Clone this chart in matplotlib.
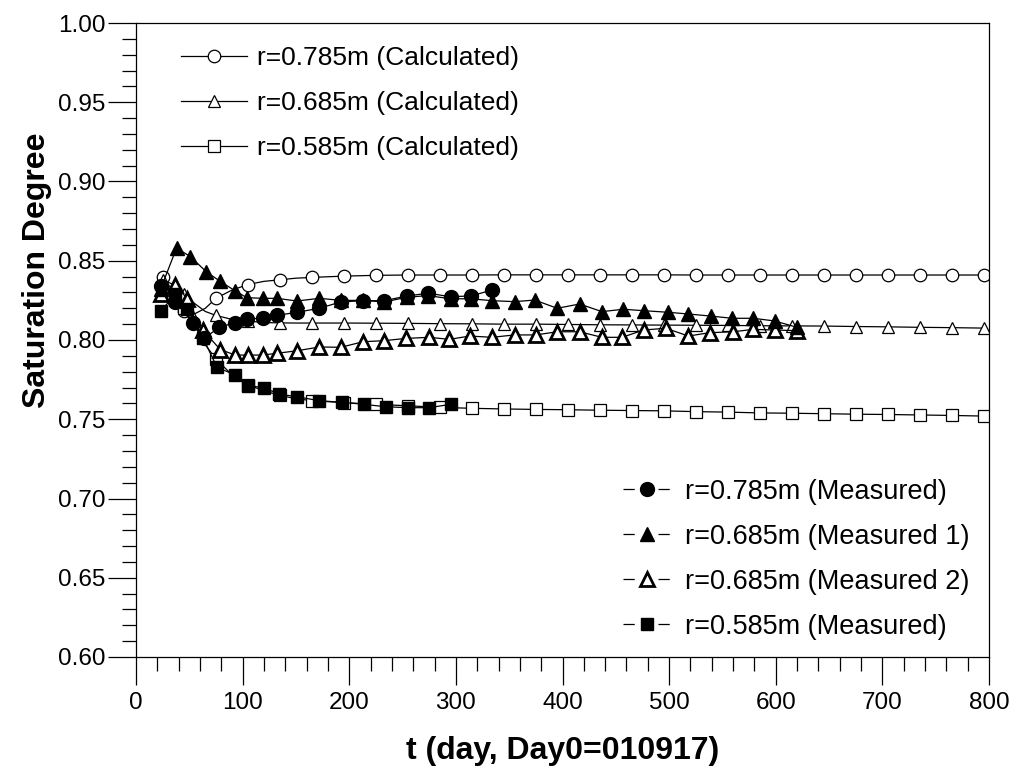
import numpy as np
import matplotlib
matplotlib.use('Agg')
import matplotlib.pyplot as plt
from matplotlib.lines import Line2D
from matplotlib.ticker import MultipleLocator

plt.rcParams['font.family'] = ['Liberation Sans', 'DejaVu Sans']

# calculated curves (line points), markers only at calc_mark_t
calc_t = [25, 35, 45, 55, 65, 75, 90, 105, 120, 135, 150, 165, 195, 225, 255, 285, 315, 345,
          375, 405, 435, 465, 495, 525, 555, 585, 615, 645, 675, 705, 735, 765, 795]
calc_mark_t = [25, 45, 75, 105, 135, 165, 195, 225, 255, 285, 315, 345, 375, 405, 435, 465,
               495, 525, 555, 585, 615, 645, 675, 705, 735, 765, 795]
calc_785 = [0.840, 0.826, 0.818, 0.8165, 0.820, 0.8263, 0.8315, 0.835, 0.837, 0.838, 0.839,
            0.8395, 0.8403, 0.8408, 0.841, 0.841, 0.841, 0.8411, 0.8411, 0.8411, 0.8411, 0.8411,
            0.8411, 0.841, 0.841, 0.841, 0.841, 0.841, 0.841, 0.841, 0.841, 0.841, 0.841]
calc_685 = [0.838, 0.835, 0.829, 0.823, 0.818, 0.8155, 0.813, 0.812, 0.811, 0.8108, 0.8107,
            0.8107, 0.8107, 0.8106, 0.8105, 0.8103, 0.8102, 0.810, 0.810, 0.8098, 0.8096, 0.8095,
            0.8094, 0.8093, 0.8092, 0.809, 0.8089, 0.8088, 0.8085, 0.8083, 0.808, 0.8078, 0.8075]
calc_585 = [0.829, 0.826, 0.820, 0.809, 0.797, 0.788, 0.778, 0.7716, 0.768, 0.765, 0.763,
            0.7617, 0.7605, 0.7594, 0.7585, 0.7575, 0.7569, 0.7565, 0.7562, 0.756, 0.7557, 0.7555,
            0.7553, 0.7548, 0.7545, 0.754, 0.7538, 0.7535, 0.7532, 0.753, 0.7527, 0.7524, 0.752]

# measured
m785_t = [23, 37, 53, 64, 78, 93, 104, 119, 132, 151, 172, 192, 213, 233, 254, 274, 295, 314, 334]
m785 = [0.834, 0.824, 0.811, 0.801, 0.808, 0.811, 0.813, 0.814, 0.8155, 0.8175, 0.820, 0.824,
        0.8248, 0.8248, 0.8278, 0.8295, 0.8273, 0.8278, 0.8315]

m685a_t = [23, 38, 51, 66, 79, 93, 104, 119, 132, 151, 172, 192, 213, 233, 254, 274, 295, 314,
           334, 355, 374, 395, 416, 437, 457, 476, 499, 518, 539, 559, 579, 599, 620]
m685a = [0.832, 0.858, 0.8526, 0.843, 0.837, 0.831, 0.8267, 0.8263, 0.8263, 0.8246, 0.8263,
         0.825, 0.825, 0.824, 0.827, 0.828, 0.826, 0.826, 0.8248, 0.8242, 0.8252, 0.820, 0.8227,
         0.8179, 0.8194, 0.8185, 0.8175, 0.8164, 0.8151, 0.8137, 0.8137, 0.812, 0.808]

m685b_t = [23, 37, 48, 63, 79, 93, 105, 119, 132, 151, 172, 192, 213, 233, 253, 275, 294, 313,
           334, 355, 375, 395, 416, 437, 456, 476, 497, 518, 538, 560, 579, 599, 620]
m685b = [0.829, 0.835, 0.826, 0.806, 0.794, 0.7905, 0.7905, 0.7905, 0.7916, 0.7932, 0.7956,
         0.7954, 0.7989, 0.7996, 0.801, 0.8017, 0.8004, 0.8025, 0.8017, 0.8032, 0.8032, 0.8052,
         0.8052, 0.8017, 0.8017, 0.8063, 0.8074, 0.8025, 0.8046, 0.8052, 0.8067, 0.8063, 0.8059]

m585_t = [23, 37, 48, 63, 76, 93, 105, 120, 134, 151, 172, 193, 214, 234, 255, 275, 295]
m585 = [0.818, 0.829, 0.8194, 0.801, 0.7828, 0.7779, 0.7712, 0.7699, 0.7659, 0.7642, 0.7617,
        0.7607, 0.7594, 0.7579, 0.7573, 0.7573, 0.7594]

calc_labels = ['r=0.785m (Calculated)', 'r=0.685m (Calculated)', 'r=0.585m (Calculated)']
meas_labels = ['r=0.785m (Measured)', 'r=0.685m (Measured 1)', 'r=0.685m (Measured 2)',
               'r=0.585m (Measured)']

fig = plt.figure(figsize=(10.14, 7.72), dpi=100)
ax = fig.add_axes([136/1014, 1-657/772, (989-136)/1014, (657-23)/772])

mark_idx = [calc_t.index(t) for t in calc_mark_t]
lw = 0.9
calc_handles = []
for y, mk, ms in [(calc_785, 'o', 9), (calc_685, '^', 9), (calc_585, 's', 8)]:
    h, = ax.plot(calc_t, y, color='k', lw=lw, marker=mk, ms=ms, mfc='white', mec='k', mew=0.9,
                 markevery=mark_idx)
    calc_handles.append(h)

ax.plot(m685b_t, m685b, color='k', lw=lw, marker='^', ms=9.5, mfc='white', mec='k', mew=2)
ax.plot(m585_t, m585, color='k', lw=lw, marker='s', ms=9, mfc='k', mec='k')
ax.plot(m685a_t, m685a, color='k', lw=lw, marker='^', ms=10, mfc='k', mec='k')
ax.plot(m785_t, m785, color='k', lw=lw, marker='o', ms=10, mfc='k', mec='k')

ax.set_xlim(0, 800)
ax.set_ylim(0.6, 1.0)
ax.xaxis.set_major_locator(MultipleLocator(100))
ax.xaxis.set_minor_locator(MultipleLocator(20))
ax.yaxis.set_major_locator(MultipleLocator(0.05))
ax.yaxis.set_minor_locator(MultipleLocator(0.01))
ax.yaxis.set_major_formatter(plt.FormatStrFormatter('%.2f'))
ax.tick_params(which='both', direction='out', top=False, right=False, width=0.9, labelsize=17.5)
ax.tick_params(which='major', length=20)
ax.tick_params(which='minor', length=10)
ax.tick_params(axis='x', pad=5)
ax.tick_params(axis='y', pad=2)
for s in ax.spines.values():
    s.set_linewidth(0.9)

ax.set_xlabel('t (day, Day0=010917)', fontsize=23, fontweight='bold', labelpad=16)
ax.set_ylabel('Saturation Degree', fontsize=23, fontweight='bold')
ax.yaxis.set_label_coords(-0.099, 0.61)

leg1 = ax.legend(calc_handles, calc_labels, loc='upper left', bbox_to_anchor=(0.04, 0.98),
                 frameon=False, fontsize=19, handlelength=2.5, handletextpad=0.4,
                 labelspacing=0.8, borderaxespad=0)
ax.add_artist(leg1)

meas_handles = [
    Line2D([], [], color='k', lw=lw, ls=(0, (9, 19)), marker='o', ms=10, mfc='k', mec='k'),
    Line2D([], [], color='k', lw=lw, ls=(0, (9, 19)), marker='^', ms=10, mfc='k', mec='k'),
    Line2D([], [], color='k', lw=lw, ls=(0, (9, 19)), marker='^', ms=9.5, mfc='white', mec='k', mew=2),
    Line2D([], [], color='k', lw=lw, ls=(0, (9, 19)), marker='s', ms=9, mfc='k', mec='k'),
]
ax.legend(meas_handles, meas_labels, loc='lower right', bbox_to_anchor=(0.99, 0.01),
          frameon=False, fontsize=19.5, handlelength=1.8, handletextpad=0.5,
          labelspacing=0.7, borderaxespad=0)

fig.savefig('out.png', dpi=100)
